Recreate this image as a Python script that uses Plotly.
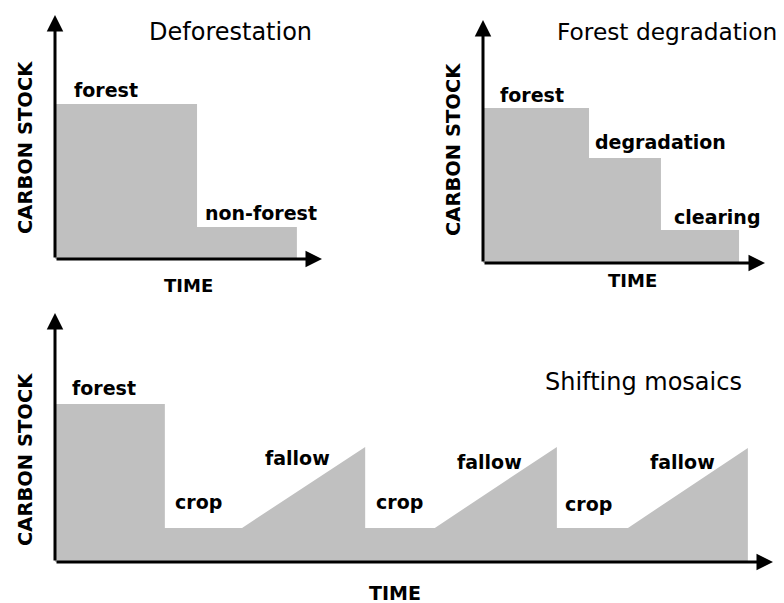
import plotly.graph_objects as go

# page body has an 8px margin, so the figure is sized to fit the window
OFF = 8
W, H = 784 - OFF, 603 - OFF

# ---- data (schematic values) ----
defor_time = [0, 5.32, 9.06]
defor_carbon = [6.35, 1.31, 1.31]
defor_labels = ["forest", "non-forest"]

degr_time = [0, 3.76, 6.31, 9.08]
degr_carbon = [6.38, 4.32, 1.36, 1.36]
degr_labels = ["forest", "degradation", "clearing"]

shift_time = [0, 3.06, 3.06, 5.21, 8.64, 8.64, 10.58, 13.98, 13.98, 15.96, 19.30, 19.30]
shift_carbon = [6.35, 6.35, 1.37, 1.37, 4.62, 1.37, 1.37, 4.62, 1.37, 1.37, 4.58, 0]
shift_labels = ["forest", "crop", "fallow", "crop", "fallow", "crop", "fallow"]

titles = ["Deforestation", "Forest degradation", "Shifting mosaics"]
y_title = "CARBON STOCK"
x_title = "TIME"

GREY = "#c0c0c0"
FONT = "DejaVu Sans"


def px(x):
    return (x - OFF) / W


def py(y):
    return 1 - (y - OFF) / H


# panel pixel geometry (window pixels): origin (x0, y0), tips (x1, y1)
panels = [
    dict(x0=55, y0=259, x1=322, y1=15, xr=10, yr=10, xa="x", ya="y"),
    dict(x0=483, y0=263, x1=765, y1=20, xr=10, yr=10, xa="x2", ya="y2"),
    dict(x0=55, y0=562, x1=773, y1=313, xr=20, yr=10, xa="x3", ya="y3"),
]

fig = go.Figure()

fig.add_trace(go.Scatter(x=defor_time, y=defor_carbon, mode="lines", line_shape="hv",
                         fill="tozeroy", fillcolor=GREY, line=dict(width=0, color=GREY),
                         xaxis="x", yaxis="y", hoverinfo="skip"))
fig.add_trace(go.Scatter(x=degr_time, y=degr_carbon, mode="lines", line_shape="hv",
                         fill="tozeroy", fillcolor=GREY, line=dict(width=0, color=GREY),
                         xaxis="x2", yaxis="y2", hoverinfo="skip"))
fig.add_trace(go.Scatter(x=shift_time, y=shift_carbon, mode="lines",
                         fill="tozeroy", fillcolor=GREY, line=dict(width=0, color=GREY),
                         xaxis="x3", yaxis="y3", hoverinfo="skip"))

layout = dict(width=W, height=H, margin=dict(l=0, r=0, t=0, b=0),
              paper_bgcolor="white", plot_bgcolor="white", showlegend=False)

annotations = []
for i, p in enumerate(panels):
    sx = "" if i == 0 else str(i + 1)
    ax_common = dict(showgrid=False, zeroline=False, showticklabels=False,
                     ticks="", showline=False, fixedrange=True)
    layout["xaxis" + sx] = dict(domain=[px(p["x0"]), px(p["x1"])], range=[0, p["xr"]],
                                anchor="y" + sx, **ax_common)
    layout["yaxis" + sx] = dict(domain=[py(p["y0"]), py(p["y1"])], range=[0, p["yr"]],
                                anchor="x" + sx, **ax_common)
    # axis arrows
    for tip in [(p["xr"], 0), (0, p["yr"])]:
        annotations.append(dict(x=tip[0], y=tip[1], ax=0, ay=0, xref=p["xa"], yref=p["ya"],
                                axref=p["xa"], ayref=p["ya"], showarrow=True, arrowhead=2,
                                arrowsize=1.1, arrowwidth=3, arrowcolor="black", text=""))


def label(text, x, y, size=19, bold=True, angle=0):
    annotations.append(dict(text=("<b>%s</b>" % text) if bold else text,
                            x=px(x), y=py(y), xref="paper", yref="paper",
                            xanchor="center", yanchor="middle", showarrow=False,
                            textangle=angle, font=dict(family=FONT, size=size, color="black")))


# titles
label(titles[0], 230, 32, size=24, bold=False)
label(titles[1], 667, 32, size=23.3, bold=False)
label(titles[2], 643, 382, size=24, bold=False)

# axis titles
label(y_title, 25, 148, size=19.5, angle=-90)
label(y_title, 453, 149, size=19.5, angle=-90)
label(y_title, 25, 460, size=19.5, angle=-90)
label(x_title, 188, 285, size=18)
label(x_title, 632, 281, size=18)
label(x_title, 395, 593, size=19)

# stage labels
defor_pos = [(106, 90), (261, 213)]
for t, (x, y) in zip(defor_labels, defor_pos):
    label(t, x, y)
degr_pos = [(532, 95), (660, 142), (717, 217)]
for t, (x, y) in zip(degr_labels, degr_pos):
    label(t, x, y)
shift_pos = [(104, 388), (198, 502), (297, 458), (399, 502), (489, 462), (588, 504), (682, 462)]
for t, (x, y) in zip(shift_labels, shift_pos):
    label(t, x, y)

layout["annotations"] = annotations
fig.update_layout(**layout)
fig.write_html("out.html")
